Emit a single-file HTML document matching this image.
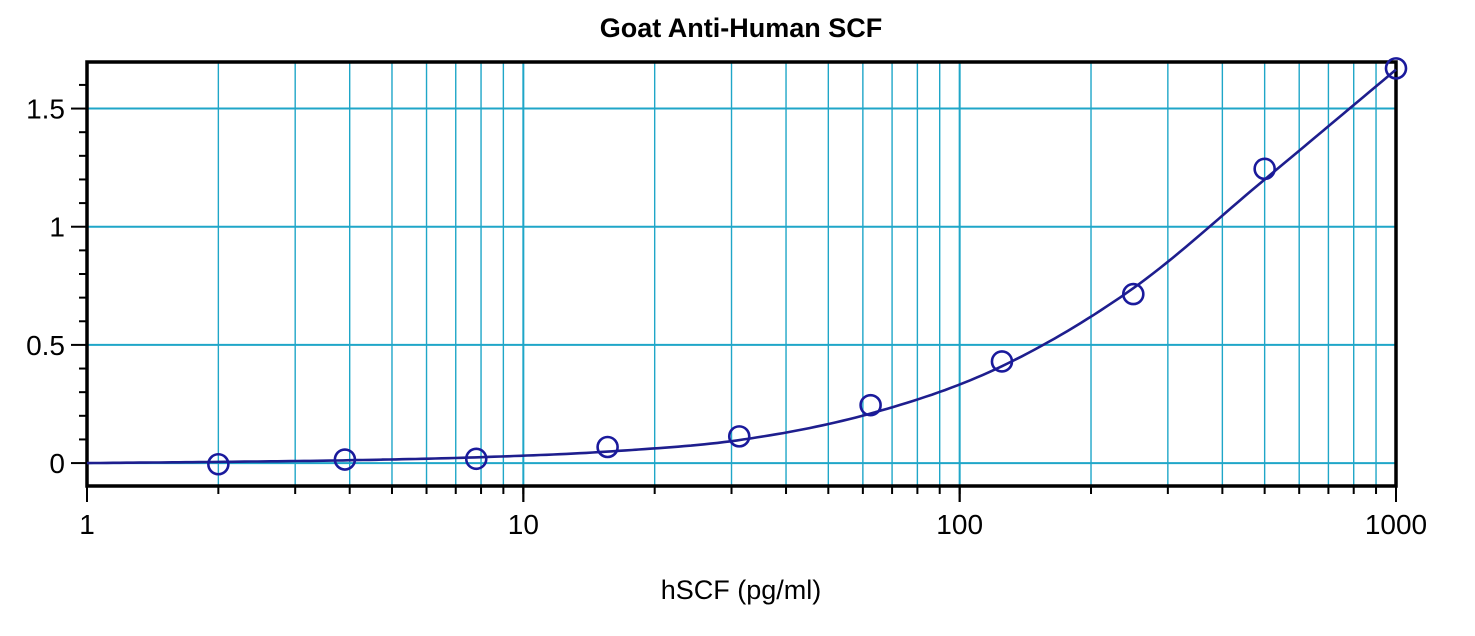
<!DOCTYPE html>
<html><head><meta charset="utf-8"><style>
body{margin:0;background:#fff;}
svg text{font-family:"Liberation Sans",Arial,sans-serif;}
</style></head><body>
<svg id="chart" width="1475" height="631" xmlns="http://www.w3.org/2000/svg">
<text x="741" y="37" text-anchor="middle" font-size="27" font-weight="bold" fill="#000">Goat Anti-Human SCF</text>
<g id="grid"></g>
<g id="axes"></g>
<g id="series"></g>
<text x="741" y="599" text-anchor="middle" font-size="27" fill="#000">hSCF (pg/ml)</text>
</svg>
<script>
const xTickValues=[1,10,100,1000];
const xTickLabels=["1","10","100","1000"];
const yTickValues=[0,0.5,1,1.5];
const yTickLabels=["0","0.5","1","1.5"];
const pointX=[2,3.9,7.8,15.6,31.25,62.5,125,250,500,1000];
const pointY=[-0.005,0.015,0.018,0.068,0.113,0.245,0.43,0.715,1.245,1.67];
const curveX=[1,2,4,8,16,32,64,125,250,500,1000];
const curveY=[0,0.005,0.012,0.025,0.05,0.1,0.215,0.41,0.74,1.2,1.665];

const L=87,R=1396,T=62,B=486;
const xMin=1,xMax=1000,yMin=-0.097,yMax=1.697;
const sx=v=>L+(Math.log10(v)-Math.log10(xMin))/(Math.log10(xMax)-Math.log10(xMin))*(R-L);
const sy=v=>B-(v-yMin)/(yMax-yMin)*(B-T);
const NS="http://www.w3.org/2000/svg";
function mk(tag,attrs,parent){const e=document.createElementNS(NS,tag);for(const k in attrs)e.setAttribute(k,attrs[k]);parent.appendChild(e);return e;}
const grid=document.getElementById('grid'),axes=document.getElementById('axes'),series=document.getElementById('series');
const gc="#1fa6c8";
for(let d=1;d<1000;d*=10){for(let m=1;m<=10;m++){const v=d*m;if(v<=1||v>=1000)continue;
 const x=sx(v);const ln=mk('line',{x1:x,y1:T,x2:x,y2:B,stroke:gc,'stroke-width':m===10?2:1.4},grid);
 
 const tk=mk('line',{x1:x,y1:B,x2:x,y2:B+(m===10?16:8),stroke:'#000','stroke-width':2},axes);
 }}
yTickValues.forEach((v,i)=>{const y=sy(v);
 const ln=mk('line',{x1:L,y1:y,x2:R,y2:y,stroke:gc,'stroke-width':2},grid);
 
 const tk=mk('line',{x1:L-16,y1:y,x2:L,y2:y,stroke:'#000','stroke-width':2},axes);
 
 const t=mk('text',{x:L-22,y:y+10,'text-anchor':'end','font-size':28,fill:'#000'},axes);t.textContent=yTickLabels[i];
 });
for(let k=-1;k<=16;k++){const v=k/10;if(v*10%5===0)continue;const y=sy(v);if(y<T||y>B)continue;
 const tk=mk('line',{x1:L-8,y1:y,x2:L,y2:y,stroke:'#000','stroke-width':2},axes);
 }
xTickValues.forEach((v,i)=>{const x=sx(v);
 const tk=mk('line',{x1:x,y1:B,x2:x,y2:B+16,stroke:'#000','stroke-width':2},axes);
 
 const t=mk('text',{x:x,y:B+48,'text-anchor':'middle','font-size':28,fill:'#000'},axes);t.textContent=xTickLabels[i];
 });
const fr=mk('rect',{x:L,y:T,width:R-L,height:B-T,fill:'none',stroke:'#000','stroke-width':3.5},axes);

const lx=curveX.map(v=>Math.log10(v));
let d='';
for(let i=0;i<curveX.length-1;i++){
 const x0=lx[i],x1=lx[i+1],y0=curveY[i],y1=curveY[i+1];
 const m0=i>0?(curveY[i+1]-curveY[i-1])/(lx[i+1]-lx[i-1]):(y1-y0)/(x1-x0);
 const m1=i<curveX.length-2?(curveY[i+2]-curveY[i])/(lx[i+2]-lx[i]):(y1-y0)/(x1-x0);
 for(let s=0;s<=20;s++){const t=s/20,h=x1-x0;
  const h00=2*t*t*t-3*t*t+1,h10=t*t*t-2*t*t+t,h01=-2*t*t*t+3*t*t,h11=t*t*t-t*t;
  const y=h00*y0+h10*h*m0+h01*y1+h11*h*m1;const xv=Math.pow(10,x0+t*h);
  d+=(d?'L':'M')+sx(xv).toFixed(1)+','+sy(y).toFixed(1);}}
const cp=mk('path',{d:d,fill:'none',stroke:'#1e1e8e','stroke-width':2.6},series);

pointX.forEach((v,i)=>{const c=mk('circle',{cx:sx(v),cy:sy(pointY[i]),r:10,fill:'none',stroke:'#1a1a9c','stroke-width':2.6},series);
 });
</script>
</body></html>
